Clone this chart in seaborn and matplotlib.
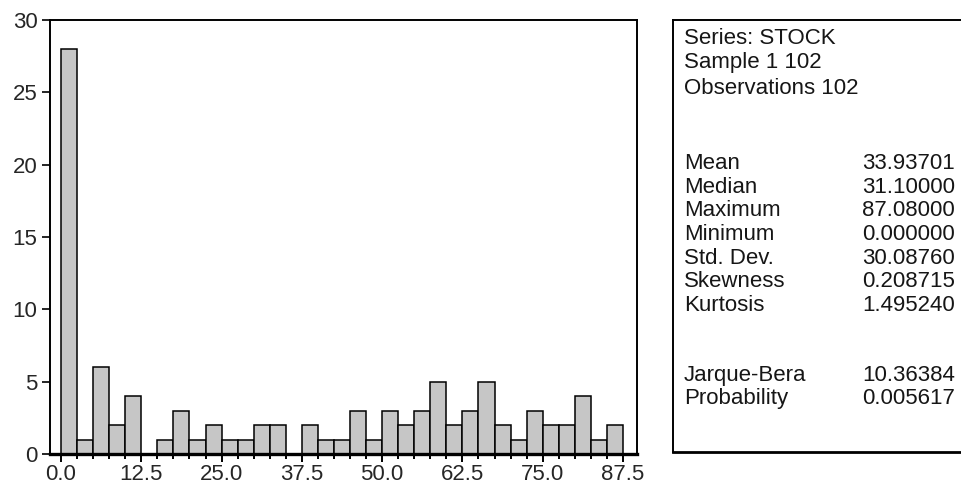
import matplotlib
matplotlib.use("Agg")
import matplotlib.pyplot as plt
import seaborn as sns

# histogram of STOCK, bins of width 2.5
bin_edges = [0.0, 2.5, 5.0, 7.5, 10.0, 12.5, 15.0, 17.5, 20.0, 22.5, 25.0, 27.5,
             30.0, 32.5, 35.0, 37.5, 40.0, 42.5, 45.0, 47.5, 50.0, 52.5, 55.0, 57.5,
             60.0, 62.5, 65.0, 67.5, 70.0, 72.5, 75.0, 77.5, 80.0, 82.5, 85.0, 87.5]
counts = [28, 1, 6, 2, 4, 0, 1, 3, 1, 2, 1, 1, 2, 2, 0, 2, 1, 1, 3, 1,
          3, 2, 3, 5, 2, 3, 5, 2, 1, 3, 2, 2, 4, 1, 2]
x_ticks = [0.0, 12.5, 25.0, 37.5, 50.0, 62.5, 75.0, 87.5]
y_ticks = [0, 5, 10, 15, 20, 25, 30]

header = ["Series: STOCK", "Sample 1 102", "Observations 102"]
stat_names = ["Mean", "Median", "Maximum", "Minimum", "Std. Dev.",
              "Skewness", "Kurtosis", "Jarque-Bera", "Probability"]
stat_values = ["33.93701", "31.10000", "87.08000", "0.000000", "30.08760",
               "0.208715", "1.495240", "10.36384", "0.005617"]

sns.set_style("ticks")
plt.rcParams["font.family"] = ["Liberation Sans", "DejaVu Sans"]

W, H = 962, 497
fig = plt.figure(figsize=(W / 100, H / 100), dpi=100)

# main histogram axes (pixel layout)
left, right, top, bottom = 50, 637, 20, 454
ax = fig.add_axes([left / W, (H - bottom) / H, (right - left) / W, (bottom - top) / H])
sns.histplot(x=bin_edges[:-1], weights=counts, bins=bin_edges, color="#c6c6c6",
             edgecolor="black", linewidth=1.1, alpha=1, ax=ax)
ax.set_xlim(-1.72, 89.68)
ax.set_ylim(0, 30)
ax.set_xticks(x_ticks)
ax.set_xticklabels([f"{t:.1f}" for t in x_ticks])
ax.set_xticks(bin_edges, minor=True)
ax.set_yticks(y_ticks)
ax.set_xlabel(""); ax.set_ylabel("")
ax.tick_params(axis="x", which="major", length=6, width=1.4, labelsize=16, pad=1.5, color="black")
ax.tick_params(axis="x", which="minor", length=3.5, width=1.4, color="black")
ax.tick_params(axis="y", which="major", length=6, width=1.2, labelsize=16, pad=3, color="black")
for s in ["left", "right", "top"]:
    ax.spines[s].set_visible(True)
    ax.spines[s].set_linewidth(1.4)
    ax.spines[s].set_color("black")
ax.spines["bottom"].set_linewidth(2.4)
ax.spines["bottom"].set_color("black")
ax.grid(False)

# statistics box
bl, bt, bb = 673, 20, 452
bax = fig.add_axes([bl / W, (H - bb) / H, (W + 10 - bl) / W, (bb - bt) / H])
bax.set_xlim(bl, W + 10)
bax.set_ylim(bb, bt)
bax.set_xticks([]); bax.set_yticks([])
for s in ["left", "top", "bottom"]:
    bax.spines[s].set_linewidth(1.4)
    bax.spines[s].set_color("black")
bax.spines["bottom"].set_linewidth(2.0)
bax.spines["right"].set_visible(False)

header_mid = [38, 62, 88]
stat_mid = [163, 187, 210, 234, 258, 281, 305, 375, 398]
for txt, yc in zip(header, header_mid):
    bax.text(684, yc + 6, txt, fontsize=16, va="baseline", ha="left", color="#161616")
for name, val, yc in zip(stat_names, stat_values, stat_mid):
    bax.text(684, yc + 6, name, fontsize=16, va="baseline", ha="left", color="#161616")
    bax.text(862, yc + 6, val, fontsize=16, va="baseline", ha="left", color="#161616")

fig.savefig("out.png", dpi=100)
